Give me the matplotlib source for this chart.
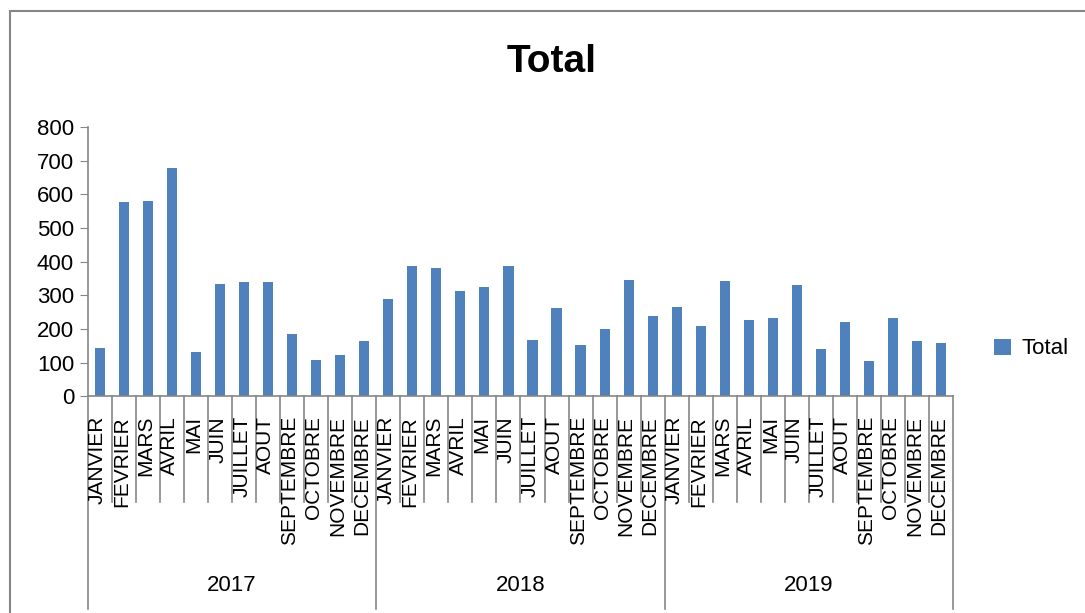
import matplotlib.pyplot as plt
from matplotlib.patches import Rectangle
from matplotlib.transforms import blended_transform_factory

plt.rcParams['font.family'] = ['Liberation Sans', 'DejaVu Sans']

# Data
years = ['2017', '2018', '2019']
months = ['JANVIER', 'FEVRIER', 'MARS', 'AVRIL', 'MAI', 'JUIN', 'JUILLET',
          'AOUT', 'SEPTEMBRE', 'OCTOBRE', 'NOVEMBRE', 'DECEMBRE']
total_2017 = [144, 576, 580, 677, 131, 335, 339, 339, 185, 108, 123, 164]
total_2018 = [288, 386, 380, 312, 326, 388, 168, 263, 152, 200, 345, 240]
total_2019 = [267, 210, 343, 226, 234, 332, 142, 222, 104, 232, 164, 159]

values = total_2017 + total_2018 + total_2019
labels = months * len(years)
x = list(range(len(values)))

grey = '#868686'
blue = '#4F81BD'

fig = plt.figure(figsize=(10.85, 6.13), dpi=100)
ax = fig.add_axes([0.0811, 0.3532, 0.7972, 0.4396])

bars = ax.bar(x, values, width=0.42, color=blue, label='Total')

ax.set_xlim(-0.5, len(values) - 0.5)
ax.set_ylim(0, 800)
ax.set_yticks(range(0, 801, 100))
ax.tick_params(axis='y', direction='out', length=6, color=grey, labelsize=16, pad=4)
ax.set_xticks([])
for side in ['top', 'right']:
    ax.spines[side].set_visible(False)
for side in ['left', 'bottom']:
    ax.spines[side].set_color(grey)
    ax.spines[side].set_linewidth(1.2)

# multi-level category axis: month separators, year separators, labels
trans = blended_transform_factory(ax.transData, ax.transAxes)
for i in range(len(values) + 1):
    bottom = -0.79 if i % 12 == 0 else -0.392
    ax.plot([i - 0.5, i - 0.5], [0, bottom], color=grey, lw=1.2,
            transform=trans, clip_on=False)
for i, lab in enumerate(labels):
    ax.text(i - 0.1, -0.072, lab, rotation=90, ha='center', va='top',
            fontsize=15, transform=trans)
for k, yr in enumerate(years):
    ax.text(12 * k + 5.5, -0.70, yr, ha='center', va='center',
            fontsize=16, transform=trans)

fig.text(552 / 1085, 1 - 62 / 613, 'Total', ha='center', va='center',
         fontsize=28, fontweight='bold')

fig.legend(handles=[bars], loc='center left', frameon=False, fontsize=16,
           handlelength=0.75, handleheight=0.75, handletextpad=0.5,
           bbox_to_anchor=(985 / 1085, 1 - 349 / 613), borderaxespad=0)

# chart area border
fig.patches.append(Rectangle((10 / 1085, -0.1), 1.2, 1.1 - 11 / 613,
                             transform=fig.transFigure, fill=False,
                             edgecolor=grey, lw=1.5))

fig.savefig('out.png', dpi=100)
